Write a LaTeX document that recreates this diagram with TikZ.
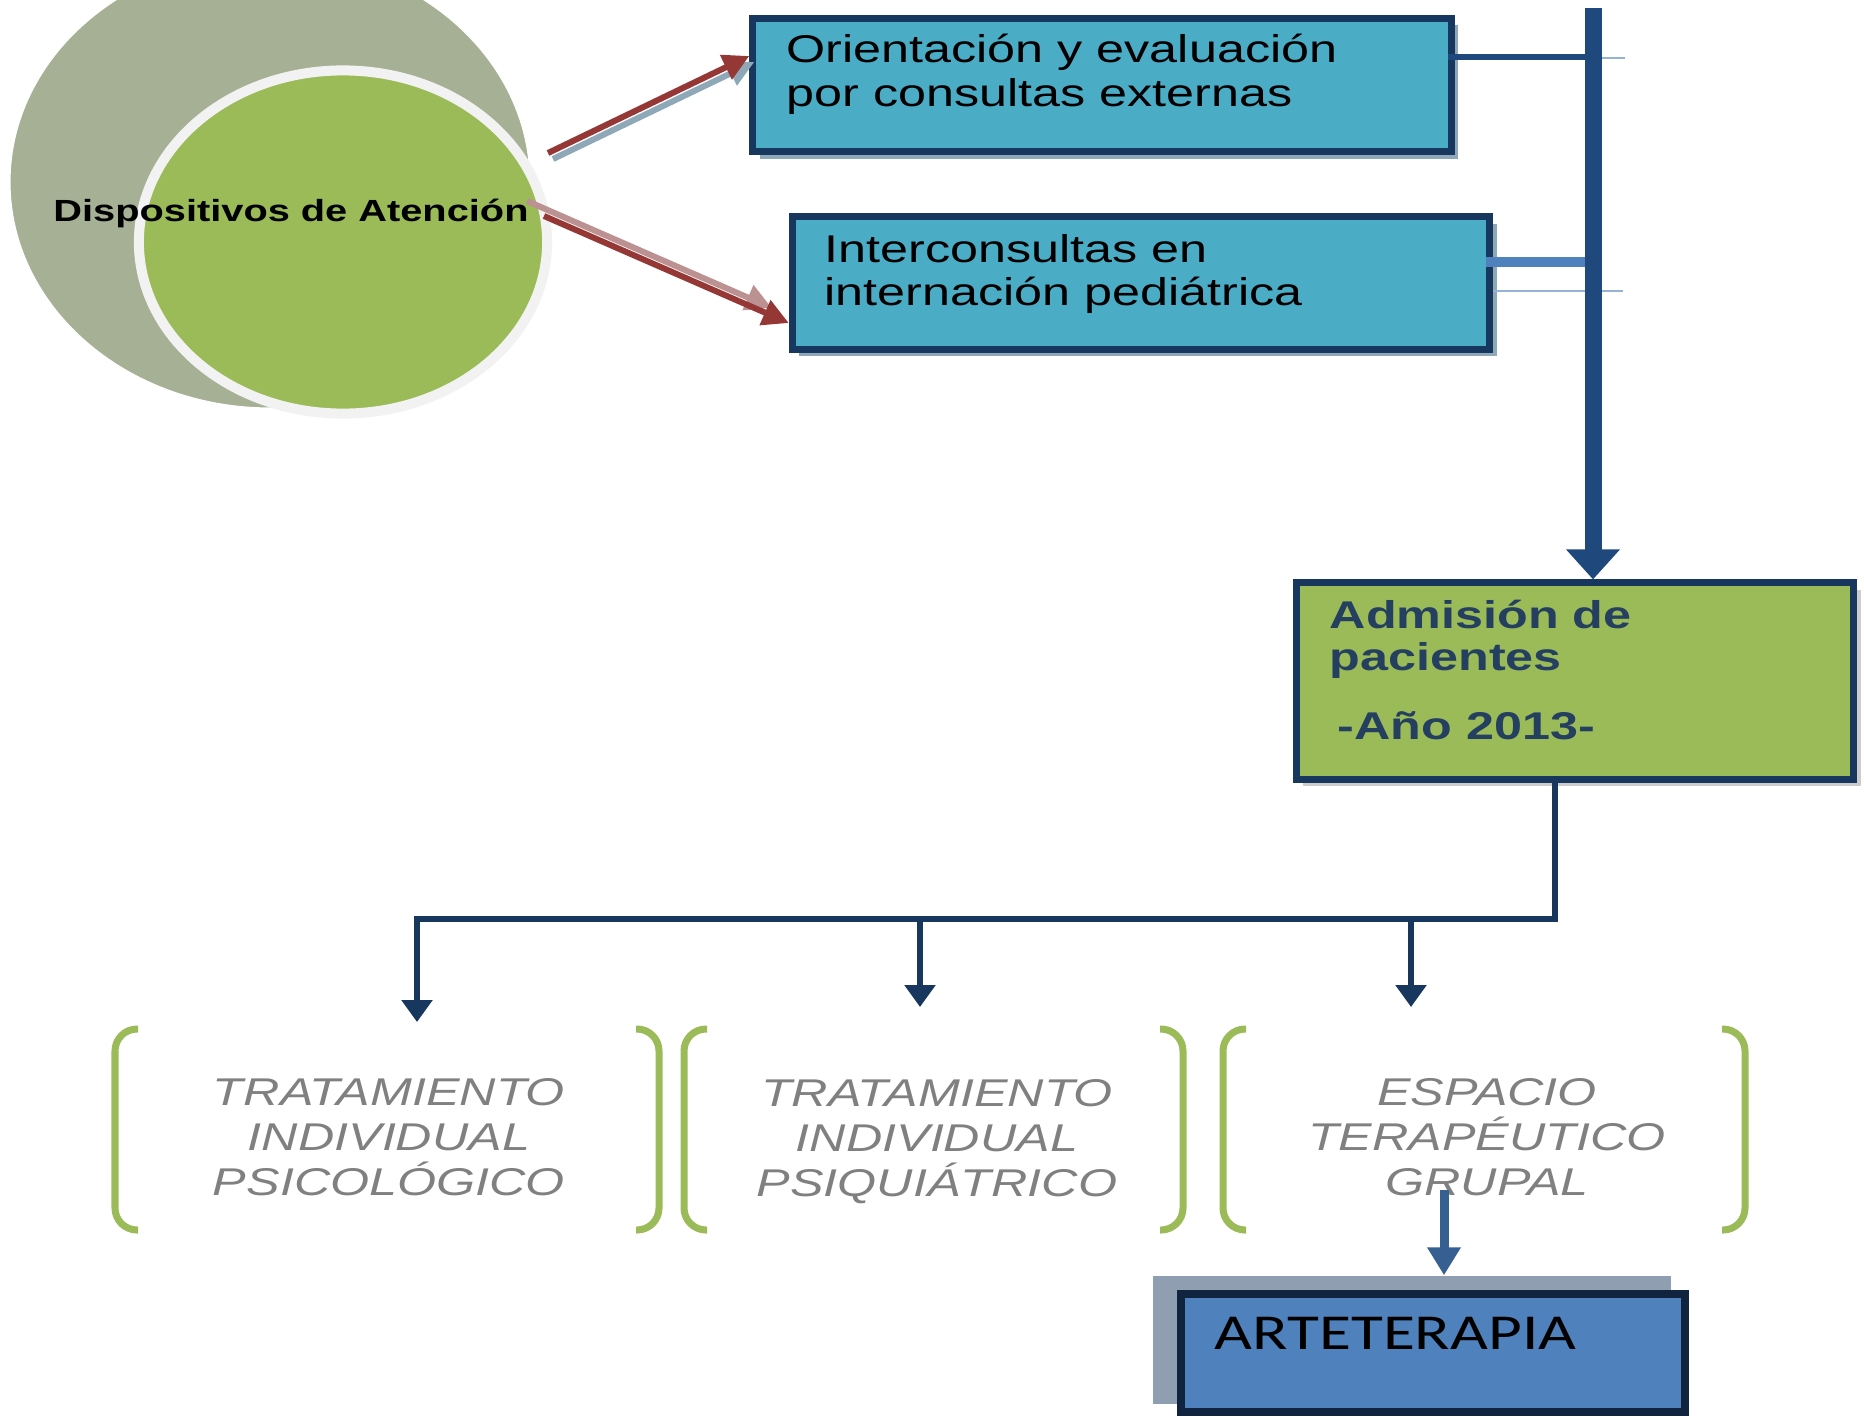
\documentclass[tikz,border=0pt]{standalone}
\usepackage{fontspec}
\setmainfont{Liberation Sans}[FakeStretch=1.3]
\newfontfamily\carlito{Carlito}[FakeStretch=1.3]
\usetikzlibrary{positioning,arrows.meta,shapes.geometric,shadows}
\definecolor{marino}{RGB}{23,55,94}
\definecolor{celeste}{RGB}{75,172,198}
\definecolor{oliva}{RGB}{155,187,89}
\definecolor{grisverde}{RGB}{166,176,148}
\definecolor{granate}{RGB}{149,55,53}
\definecolor{rosado}{RGB}{188,145,145}
\definecolor{azulbarra}{RGB}{31,73,125}
\definecolor{azulmedio}{RGB}{79,129,189}
\definecolor{azulclaro}{RGB}{149,179,215}
\definecolor{sombra}{RGB}{143,168,184}
\definecolor{textoadm}{RGB}{36,63,96}
\definecolor{grisarte}{RGB}{143,158,177}
\definecolor{bordearte}{RGB}{16,36,63}
\definecolor{flechaazul}{RGB}{55,96,146}
\tikzset{
  caja/.style={draw=marino,line width=0.07cm,inner sep=0pt},
  sombreada/.style={general shadow={fill=#1,shadow xshift=0.07cm,shadow yshift=-0.07cm}},
  celestebox/.style={caja,fill=celeste,sombreada=sombra,minimum width=6.98cm,minimum height=1.33cm},
  txtcaja/.style={anchor=west,align=left,inner sep=0pt,font=\fontsize{11}{12.5}\selectfont},
  txtgris/.style={align=center,inner sep=0pt,text=gray,font=\fontsize{11}{12.8}\selectfont\itshape},
  corchete/.style={draw=oliva,line width=0.07cm,rounded corners=0.22cm},
  roja/.style={-{Triangle[length=0.26cm,width=0.26cm]},line width=0.06cm,draw=granate},
  rama/.style={-{Triangle[length=0.22cm,width=0.3cm]},line width=0.06cm,draw=marino},
  barra/.style={-{Triangle[length=0.3cm,width=0.52cm]},line width=0.17cm,draw=azulbarra},
}
\begin{document}
\begin{tikzpicture}[x=0.01cm,y=0.01cm]
  \useasboundingbox (0,0) rectangle (1864,-1418);
  \clip (0,0) rectangle (1864,-1418);
  \node[ellipse,fill=grisverde,draw=white,line width=0.4pt,minimum width=5.2cm,minimum height=4.52cm] (gris) at (270,-182) {};
  \node[ellipse,fill=oliva,draw=black!5,line width=0.1cm,minimum width=4.08cm,minimum height=3.43cm] (verde) at (343,-242) {};
  \node[inner sep=0pt,font=\fontsize{8.7}{10}\selectfont\bfseries] (disp) at (291,-213) {Dispositivos de Atención};

  \node[celestebox] (orient) at (1102,-85) {};
  \node[txtcaja] (orient-txt) at (786,-74) {Orientación y evaluación\\por consultas externas};
  \node[celestebox,minimum width=6.97cm,minimum height=1.32cm] (inter) at (1141,-283) {};
  \node[txtcaja] (inter-txt) at (824,-274) {Interconsultas en\\internación pediátrica};

  \node[caja,fill=oliva,sombreada=black!20,minimum width=5.57cm,minimum height=1.96cm] (adm) at (1575,-681) {};
  \node[txtcaja,text=textoadm,font=\fontsize{11}{12.2}\selectfont\bfseries] (adm-txt) at (1329,-670) {Admisión de\\pacientes\\[0.26cm]\hspace*{0.08cm}-Año 2013-};

  \coordinate (r1) at (548,-153);
  \coordinate (r2) at (544,-216);
  \draw[roja,draw=sombra] ([shift={(5,-6)}]r1) -- ([shift={(5,-6)}]orient.west |- 0,-56);
  \draw[roja] (r1) -- ([yshift=0.29cm]orient.west);
  \draw[roja,draw=rosado] ([shift={(-17,15)}]r2) -- ([shift={(-17,15)}]inter.west |- 0,-323);
  \draw[roja] (r2) -- ([yshift=-0.4cm]inter.west);

  \coordinate (cima) at (1593,-8);
  \draw[azulclaro,line width=0.015cm] ([yshift=0.27cm]orient.east) -- ++(170,0);
  \draw[azulclaro,line width=0.015cm] ([yshift=-0.08cm]inter.east) -- ++(130,0);
  \draw[azulbarra,line width=0.05cm] ([shift={(-7,28)}]orient.east) -| (cima);
  \draw[azulmedio,line width=0.1cm] ([shift={(-7,21)}]inter.east) -| (cima);
  \draw[barra] (cima) -- (cima |- adm.north);

  \coordinate (bus) at (417,-919);
  \coordinate (t1) at (417,-1022);
  \coordinate (t2) at (920,-1007);
  \coordinate (t3) at (1411,-1007);
  \draw[rama] ([xshift=-0.2cm]adm.south) |- (bus) -- (t1);
  \draw[rama] (bus -| t2) -- (t2);
  \draw[rama] (bus -| t3) -- (t3);

  \node[txtgris] (psico) at (389,-1137) {TRATAMIENTO\\INDIVIDUAL\\PSICOLÓGICO};
  \node[txtgris] (psiq) at (937,-1142) {TRATAMIENTO\\INDIVIDUAL\\PSIQUIÁTRICO};
  \node[txtgris] (grupal) at (1487,-1137) {ESPACIO\\TERAPÉUTICO\\GRUPAL};
  \foreach \a/\b in {115/659,684/1183,1223/1745}{
    \draw[corchete] (\a+23,-1029) -- (\a,-1029) -- (\a,-1230) -- (\a+23,-1230);
    \draw[corchete] (\b-23,-1029) -- (\b,-1029) -- (\b,-1230) -- (\b-23,-1230);
  }

  \node[fill=grisarte,inner sep=0pt,minimum width=5.18cm,minimum height=1.28cm] (artesombra) at (1412,-1340) {};
  \node[draw=bordearte,fill=azulmedio,line width=0.08cm,inner sep=0pt,minimum width=5.03cm,minimum height=1.17cm] (arte) at (1433,-1353) {};
  \node[anchor=west,inner sep=0pt,font=\carlito\fontsize{14.3}{16}\selectfont] (arte-txt) at (1214,-1333) {ARTETERAPIA};
  \coordinate (g1) at (1444,-1190);
  \draw[-{Triangle[length=0.28cm,width=0.32cm]},line width=0.09cm,flechaazul] (g1) -- (g1 |- artesombra.north);
\end{tikzpicture}
\end{document}
